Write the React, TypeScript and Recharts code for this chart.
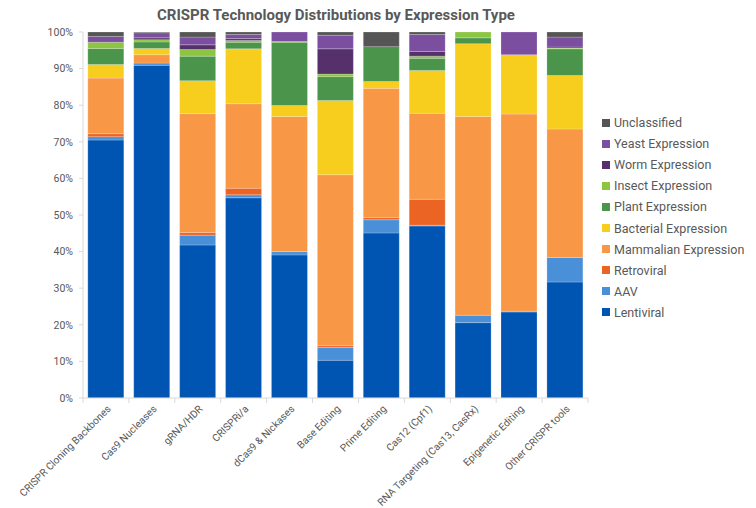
import { BarChart, Bar, XAxis, YAxis } from "recharts";

const categories = [
  "CRISPR Cloning Backbones",
  "Cas9 Nucleases",
  "gRNA/HDR",
  "CRISPRi/a",
  "dCas9 & Nickases",
  "Base Editing",
  "Prime Editing",
  "Cas12 (Cpf1)",
  "RNA Targeting (Cas13, CasRx)",
  "Epigenetic Editing",
  "Other CRISPR tools",
];

// percent of each category
const lentiviral = [70.5, 90.9, 41.8, 54.7, 39.1, 10.3, 45.1, 47.0, 20.6, 23.5, 31.7];
const aav = [0.9, 0.6, 2.7, 0.8, 0.9, 3.5, 3.6, 0.2, 2.0, 0.2, 6.7];
const retroviral = [0.8, 0, 0.7, 1.8, 0, 0.5, 0.6, 7.1, 0, 0, 0];
const mammalian = [15.2, 2.3, 32.5, 23.1, 36.9, 46.7, 35.3, 23.5, 54.3, 53.9, 35.1];
const bacterial = [3.7, 1.7, 9.0, 15.0, 3.0, 20.3, 1.9, 11.7, 19.9, 16.2, 14.6];
const plant = [4.4, 1.8, 6.7, 1.8, 17.3, 6.5, 9.5, 3.3, 1.6, 0, 7.3];
const insect = [1.7, 0.6, 1.8, 0.5, 0.2, 0.7, 0, 0.6, 1.6, 0, 0.2];
const worm = [0, 0.5, 1.3, 0.5, 0, 6.9, 0, 1.3, 0, 0, 0.3];
const yeast = [1.6, 1.4, 2.1, 1.1, 2.6, 3.7, 0, 4.6, 0, 6.2, 2.7];
const unclassified = [1.2, 0.2, 1.4, 0.7, 0, 0.9, 4.0, 0.7, 0, 0, 1.4];

const yTicks = [0, 0.1, 0.2, 0.3, 0.4, 0.5, 0.6, 0.7, 0.8, 0.9, 1];

const series = [
  { key: "lentiviral", name: "Lentiviral", values: lentiviral, color: "#0055B3" },
  { key: "aav", name: "AAV", values: aav, color: "#4A90D9" },
  { key: "retroviral", name: "Retroviral", values: retroviral, color: "#EC6424" },
  { key: "mammalian", name: "Mammalian Expression", values: mammalian, color: "#F89746" },
  { key: "bacterial", name: "Bacterial Expression", values: bacterial, color: "#F7CD1E" },
  { key: "plant", name: "Plant Expression", values: plant, color: "#4A944B" },
  { key: "insect", name: "Insect Expression", values: insect, color: "#8CC540" },
  { key: "worm", name: "Worm Expression", values: worm, color: "#55306B" },
  { key: "yeast", name: "Yeast Expression", values: yeast, color: "#7B4EA0" },
  { key: "unclassified", name: "Unclassified", values: unclassified, color: "#555555" },
];

const data = categories.map((name, i) => {
  const row: Record<string, any> = { name };
  series.forEach((s) => (row[s.key] = s.values[i]));
  return row;
});

const FONT = "Roboto, 'Noto Sans', sans-serif";
const TEXT = "#595959";
const AXIS = "#D9D9D9";
const BAND = 505 / categories.length;

const XTick = ({ x, y, payload, index }: any) => (
  <g transform={`translate(${x},${y})`}>
    <line x1={-BAND / 2} x2={-BAND / 2} y1={0} y2={5} stroke={AXIS} />
    {index === categories.length - 1 && <line x1={BAND / 2} x2={BAND / 2} y1={0} y2={5} stroke={AXIS} />}
    <g transform="translate(3,9) rotate(-45)">
      <text textAnchor="end" dy="0.35em" fontSize={10.2} fill={TEXT} fontFamily={FONT}>
        {payload.value}
      </text>
    </g>
  </g>
);

export default function App() {
  return (
    <div style={{ position: "absolute", left: 0, top: 0, width: 756, height: 508, background: "#fff", fontFamily: FONT }}>
      <div
        style={{
          position: "absolute",
          top: 6,
          left: 0,
          width: 672,
          textAlign: "center",
          fontWeight: 700,
          fontSize: 15,
          color: TEXT,
        }}
      >
        CRISPR Technology Distributions by Expression Type
      </div>
      <BarChart
        width={756}
        height={508}
        data={data}
        stackOffset="expand"
        barCategoryGap="10.5%"
        margin={{ top: 32, right: 168, left: 0, bottom: 0 }}
      >
        <XAxis
          dataKey="name"
          interval={0}
          height={110}
          tickSize={0}
          tickMargin={0}
          axisLine={{ stroke: AXIS }}
          tick={<XTick />}
        />
        <YAxis
          width={83}
          domain={[0, 1]}
          ticks={yTicks}
          tickFormatter={(v) => `${Math.round(v * 100)}%`}
          tick={{ fontSize: 10.5, fill: TEXT, fontFamily: FONT }}
          tickSize={4}
          tickMargin={6}
          axisLine={{ stroke: AXIS }}
          tickLine={{ stroke: AXIS }}
        />
        {series.map((s) => (
          <Bar
            key={s.key}
            dataKey={s.key}
            name={s.name}
            stackId="a"
            fill={s.color}
            stroke="#ffffff"
            strokeOpacity={0.35}
            strokeWidth={0.6}
            isAnimationActive={false}
          />
        ))}
      </BarChart>
      <div style={{ position: "absolute", left: 602, top: 112 }}>
        {[...series].reverse().map((s) => (
          <div key={s.key} style={{ display: "flex", alignItems: "center", height: 21.1 }}>
            <span style={{ width: 8, height: 8, background: s.color, marginRight: 4, flexShrink: 0 }} />
            <span style={{ fontSize: 12.5, color: TEXT, whiteSpace: "nowrap" }}>{s.name}</span>
          </div>
        ))}
      </div>
    </div>
  );
}
